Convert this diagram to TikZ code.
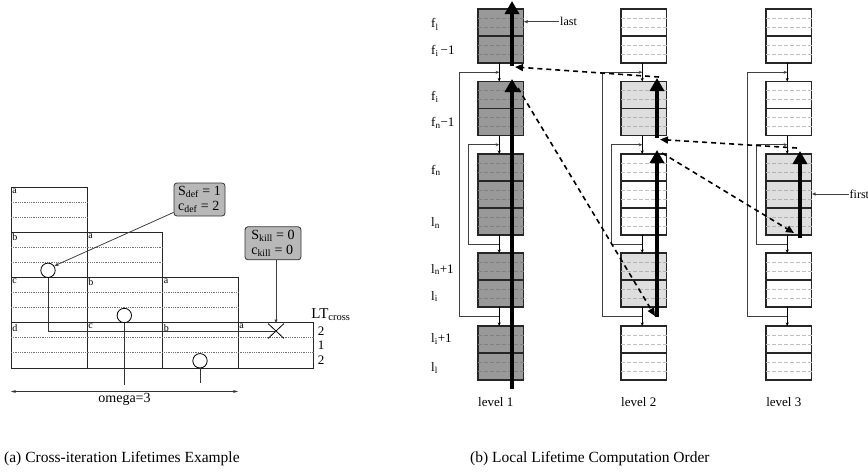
\documentclass[tikz,border=0pt]{standalone}
\usepackage{fontspec}
\setmainfont{Liberation Serif}
\usetikzlibrary{calc,arrows.meta,shapes.misc}
\definecolor{darkbox}{gray}{0.6}
\definecolor{lightbox}{gray}{0.87}
\definecolor{notegray}{gray}{0.72}
\def\levelbox[#1/#2](#3)(#4,#5)(#6){%
	\node[stackbox, fill=#1, minimum height=#6*27pt] (#3) at (#4,#5) {};
	\foreach \s in {1,...,#6}{
		\draw[innerdash, draw=#2] ($(#3.north west)+(0,{27*\s-18})$) -- ++(45.5,0);
		\draw[innerdash, draw=#2] ($(#3.north west)+(0,{27*\s-9})$) -- ++(45.5,0);
	}
	\foreach \s in {2,...,#6}{
		\draw[stackline] ($(#3.north west)+(0,{27*\s-27})$) -- ++(45.5,0);
	}
}

\begin{document}
\begin{tikzpicture}[x=1pt,y=-1pt,
	rowline/.style={draw=black!85, line width=0.8pt},
	dotrow/.style={draw=black!55, line width=0.6pt, dash pattern=on 0.7pt off 1.1pt},
	cellname/.style={anchor=north west, inner sep=1.2pt, font=\fontsize{10}{10}\selectfont},
	usecircle/.style={circle, draw, fill=white, line width=0.8pt, minimum size=14.4pt, inner sep=0pt},
	killmark/.style={cross out, draw, line width=0.8pt, minimum width=15pt, minimum height=14pt, inner sep=0pt},
	useline/.style={draw=black!80, line width=0.8pt},
	note/.style={draw=black!80, fill=notegray, rounded corners=3pt, align=left, inner sep=1.5pt, line width=0.8pt, font=\fontsize{14}{15}\selectfont},
	callout/.style={draw=black!75, line width=0.8pt, -{Latex[open,length=4pt,width=3.5pt]}},
	stackbox/.style={draw=black!85, line width=1.1pt, inner sep=0pt, outer sep=0pt, minimum width=45.5pt, anchor=north west},
	stackline/.style={draw=black!85, line width=1.1pt},
	innerdash/.style={line width=0.7pt, dash pattern=on 4pt off 2pt},
	flow/.style={draw=black, line width=0.7pt, -{Stealth[length=3.5pt,width=3pt]}},
	loopline/.style={draw=black!75, line width=0.8pt, -{Stealth[length=3.5pt,width=3pt]}},
	order/.style={draw=black, line width=4pt, -{Triangle[length=13pt,width=14pt]}},
	jump/.style={draw=black, line width=1.6pt, dash pattern=on 5pt off 4pt, -{Triangle[length=8pt,width=7pt]}},
	tag/.style={inner sep=1pt, font=\fontsize{13}{15}\selectfont},
	smalltag/.style={inner sep=1pt, font=\fontsize{12}{13}\selectfont},
	caption/.style={inner sep=0pt, font=\fontsize{15.5}{17}\selectfont}]
	\useasboundingbox (0,0) rectangle (868,474);
	%%%%% START %%%%%
	
	%% (a) cross-iteration lifetimes
	\draw[rowline] (11,187) rectangle (87,232.25);
	\draw[rowline] (11,232.25) rectangle (162.5,277.5);
	\draw[rowline] (11,277.5) rectangle (238,322.75);
	\draw[rowline] (11,322.75) rectangle (313.5,368);
	\draw[rowline] (87,232.25) -- (87,368);
	\draw[rowline] (162.5,277.5) -- (162.5,368);
	\draw[rowline] (238,322.75) -- (238,368);
	
	\draw[dotrow] (11,202) -- (87,202);
	\draw[dotrow] (11,217) -- (87,217);
	\draw[dotrow] (11,247.25) -- (162.5,247.25);
	\draw[dotrow] (11,262.25) -- (162.5,262.25);
	\draw[dotrow] (11,292.5) -- (238,292.5);
	\draw[dotrow] (11,307.5) -- (238,307.5);
	\draw[dotrow] (11,337.75) -- (313.5,337.75);
	\draw[dotrow] (11,352.75) -- (313.5,352.75);
	
	\node[cellname] (n0a) at (11,187) {a};
	\node[cellname] (n1b) at (11,232.25) {b};
	\node[cellname] (n1a) at (87,232.25) {a};
	\node[cellname] (n2c) at (11,277.5) {c};
	\node[cellname] (n2b) at (87,277.5) {b};
	\node[cellname] (n2a) at (162.5,277.5) {a};
	\node[cellname] (n3d) at (11,322.75) {d};
	\node[cellname] (n3c) at (87,322.75) {c};
	\node[cellname] (n3b) at (162.5,322.75) {b};
	\node[cellname] (n3a) at (238,322.75) {a};
	
	\node[usecircle] (use1) at (48,270.3) {};
	\node[usecircle] (use2) at (124.3,315.5) {};
	\node[usecircle] (use3) at (200,360.8) {};
	\node[killmark] (kill) at (276,331) {};
	\draw[useline] (use1.south) |- (kill.center);
	\draw[useline] (use2.south) -- ++(0,61.5);
	\draw[useline] (use3.south) -- ++(0,15);
	
	\node[note, minimum width=51pt, minimum height=33pt] (sdef) at (199.5,199.5) {S\textsubscript{def} = 1\\c\textsubscript{def} = 2};
	\node[note, minimum width=56pt, minimum height=33pt] (skill) at (273,243.3) {S\textsubscript{kill} = 0\\c\textsubscript{kill} = 0};
	\draw[callout] ([yshift=4pt]sdef.south west) -- (use1.35);
	\draw[callout] (skill.south -| kill) -- (kill.north);
	
	\node[tag, font=\fontsize{15}{16}\selectfont] (lt) at (331,315) {LT\textsubscript{cross}};
	\node[tag] (lt2a) at (321,331) {2};
	\node[tag] (lt1) at (321,345.5) {1};
	\node[tag] (lt2b) at (321,360.5) {2};
	
	\draw[useline, {Stealth[length=5pt,width=3pt]}-{Stealth[length=5pt,width=3pt]}] (11,391.5) -- (238,391.5);
	\node[tag, font=\fontsize{14}{15}\selectfont] (omega) at (124.5,399.5) {omega=3};
	
	%% (b) local lifetime computation order
	\levelbox[darkbox/black!50](L1a)(478,9)(2)
	\levelbox[darkbox/black!50](L1b)(478,81.5)(2)
	\levelbox[darkbox/black!50](L1c)(478,154)(3)
	\levelbox[darkbox/black!50](L1d)(478,253)(2)
	\levelbox[darkbox/black!50](L1e)(478,326)(2)
	
	\levelbox[white/black!25](L2a)(621,9)(2)
	\levelbox[lightbox/black!30](L2b)(621,81.5)(2)
	\levelbox[white/black!25](L2c)(621,154)(3)
	\levelbox[lightbox/black!30](L2d)(621,253)(2)
	\levelbox[white/black!25](L2e)(621,326)(2)
	
	\levelbox[white/black!25](L3a)(766,9)(2)
	\levelbox[white/black!25](L3b)(766,81.5)(2)
	\levelbox[lightbox/black!30](L3c)(766,154)(3)
	\levelbox[white/black!25](L3d)(766,253)(2)
	\levelbox[white/black!25](L3e)(766,326)(2)
	
	\foreach \lv in {L1,L2,L3}{
		\draw[flow] ([xshift=-1.5pt]\lv a.south) -- ([xshift=-1.5pt]\lv b.north);
		\draw[flow] ([xshift=-1.5pt]\lv b.south) -- ([xshift=-1.5pt]\lv c.north);
		\draw[flow] ([xshift=-1.5pt]\lv c.south) -- ([xshift=-1.5pt]\lv d.north);
		\draw[flow] ([xshift=-1.5pt]\lv d.south) -- ([xshift=-1.5pt]\lv e.north);
		\draw[loopline] ($(\lv d.south)!.5!(\lv e.north)+(-1.5,0)$) -- ++(-40,0) |- ($(\lv a.south)!.5!(\lv b.north)+(-1.5,0)$);
		\draw[loopline] ($(\lv c.south)!.5!(\lv d.north)+(-1.5,0)$) -- ++(-31,0) |- ($(\lv b.south)!.5!(\lv c.north)+(-1.5,0)$);
	}
	
	\node[tag, anchor=west] (fl) at (430,24.5) {f\textsubscript{l}};
	\node[tag, anchor=west] (fim) at (430,51) {f\textsubscript{i}\,−1};
	\node[tag, anchor=west] (fi) at (430,96.5) {f\textsubscript{i}};
	\node[tag, anchor=west] (fnm) at (430,123) {f\textsubscript{n}−1};
	\node[tag, anchor=west] (fn) at (430,170.5) {f\textsubscript{n}};
	\node[tag, anchor=west] (ln) at (430,223) {l\textsubscript{n}};
	\node[tag, anchor=west] (lnp) at (430,269.5) {l\textsubscript{n}+1};
	\node[tag, anchor=west] (li) at (430,296.5) {l\textsubscript{i}};
	\node[tag, anchor=west] (lip) at (430,339) {l\textsubscript{i}+1};
	\node[tag, anchor=west] (ll) at (430,368) {l\textsubscript{l}};
	
	\node[tag] (lev1) at ($(L1e.south)+(-5,22.5)$) {level 1};
	\node[tag] (lev2) at ($(L2e.south)+(-5,22.5)$) {level 2};
	\node[tag] (lev3) at ($(L3e.south)+(-5,22.5)$) {level 3};
	
	\node[smalltag, anchor=west] (lastlbl) at (559,21.7) {last};
	\draw[callout] (lastlbl.west) -- (lastlbl.west -| L1a.east);
	\node[smalltag, anchor=west] (firstlbl) at (848.5,194) {first};
	\draw[callout] (firstlbl.west) -- (firstlbl.west -| L3c.east);
	
	\coordinate (A1s) at (512,389);
	\coordinate (A1e) at (512,79);
	\coordinate (A2s) at (512,66);
	\coordinate (A2e) at (512,1);
	\coordinate (B1s) at (657,138);
	\coordinate (B1e) at (657,78);
	\coordinate (B2s) at (657,317);
	\coordinate (B2e) at (657,150);
	\coordinate (C1s) at (800,238);
	\coordinate (C1e) at (800,151);
	\draw[order] (A1s) -- (A1e);
	\draw[order] (A2s) -- (A2e);
	\draw[order] (B1s) -- (B1e);
	\draw[order] (B2s) -- (B2e);
	\draw[order] (C1s) -- (C1e);
	
	\draw[jump] ($(B1e)+(2,-1)$) -- ($(A2s)+(3,1)$);
	\draw[jump] ($(C1e)+(-3,-3)$) -- ($(B1s)+(3,1.5)$);
	\draw[jump] ($(B2e)+(5,3)$) -- ($(C1s)+(-6,-5)$);
	\draw[jump] ($(A1e)+(6,9)$) -- ($(B2s)+(-2,-1)$);
	
	\node[caption, anchor=west] (capa) at (4,459) {(a) Cross-iteration Lifetimes Example};
	\node[caption, anchor=west] (capb) at (470,459) {(b) Local Lifetime Computation Order};
	
	%%%%% END %%%%%
\end{tikzpicture}
\end{document}
